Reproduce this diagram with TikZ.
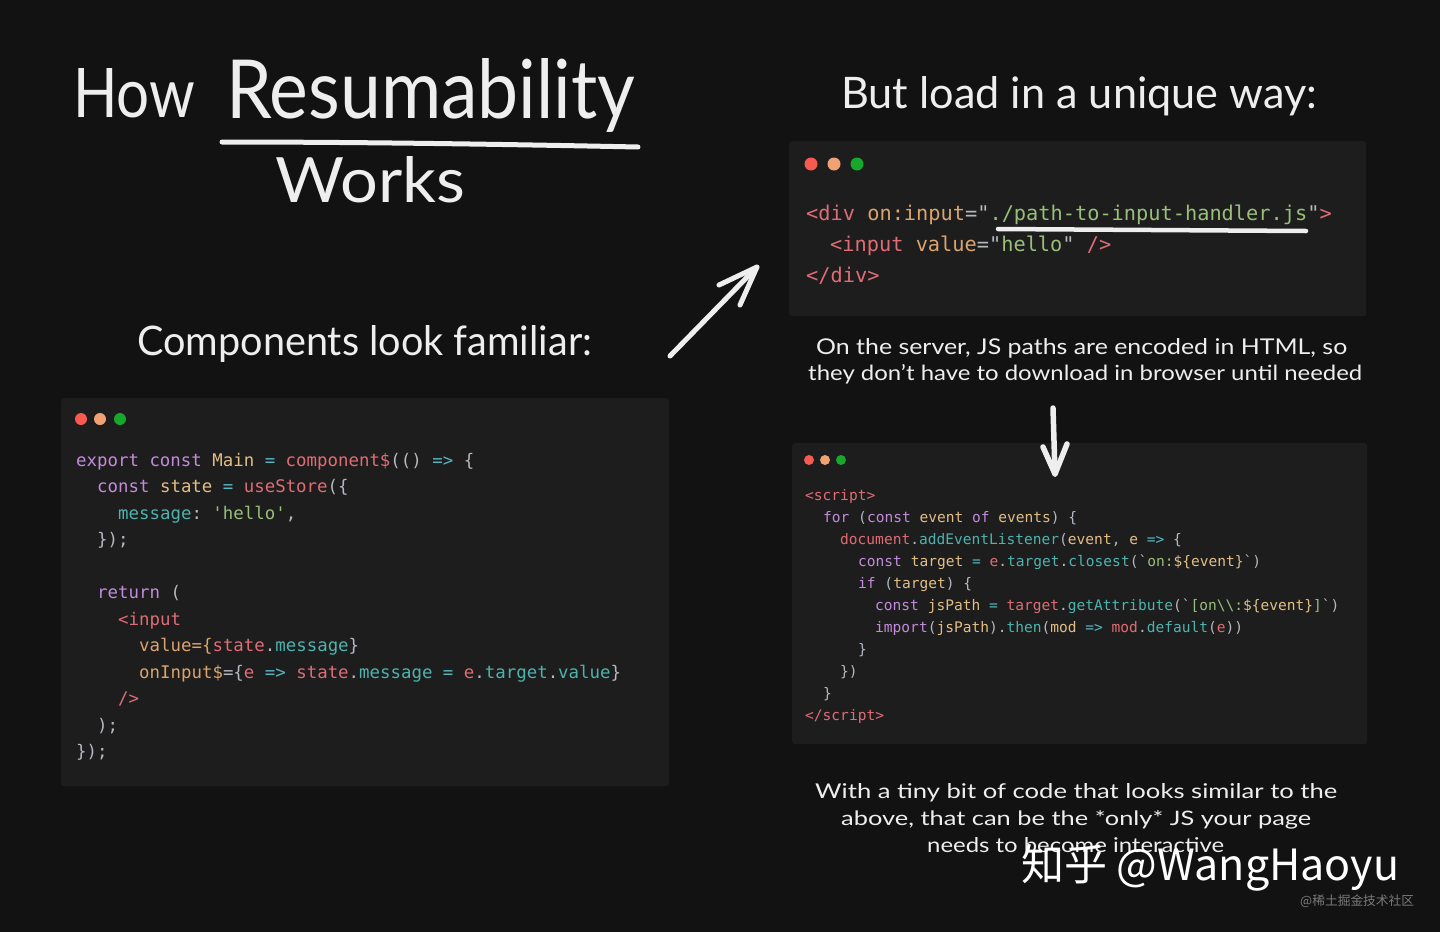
\documentclass[tikz,border=0pt]{standalone}
\usepackage{fontspec}
\usepackage{graphicx}
\setmainfont{Lato}
\setmonofont{DejaVu Sans Mono}
\newfontfamily\cjkfont{Noto Sans CJK SC}
\definecolor{bg}{HTML}{121212}
\definecolor{boxbg}{HTML}{1D1D1D}
\definecolor{hwhite}{HTML}{EEEEEE}
\definecolor{ckw}{HTML}{C38BDB}
\definecolor{cvar}{HTML}{E2BE86}
\definecolor{cfn}{HTML}{E06C75}
\definecolor{cprop}{HTML}{4DB3AE}
\definecolor{cstr}{HTML}{98BF7A}
\definecolor{cgray}{HTML}{B4B8BF}
\definecolor{cop}{HTML}{56B6C2}
\definecolor{cattr}{HTML}{D9A46E}
\definecolor{dred}{HTML}{F85A52}
\definecolor{dorange}{HTML}{F0A273}
\definecolor{dgreen}{HTML}{17A82B}
\definecolor{wmgray}{HTML}{7A7A7A}
\newcommand\zK[1]{\textcolor{ckw}{#1}}
\newcommand\zV[1]{\textcolor{cvar}{#1}}
\newcommand\zF[1]{\textcolor{cfn}{#1}}
\newcommand\zP[1]{\textcolor{cprop}{#1}}
\newcommand\zS[1]{\textcolor{cstr}{#1}}
\newcommand\zO[1]{\textcolor{cop}{#1}}
\newcommand\zA[1]{\textcolor{cattr}{#1}}
\newcommand\hw[3]{\resizebox{#1pt}{#2pt}{#3}}
\tikzset{
  hand/.style={text=hwhite, inner sep=0pt, anchor=base west},
  codeA/.style={font=\ttfamily\fontsize{17.4}{20}\selectfont, text=cgray, inner sep=0pt, anchor=base west},
  codeB/.style={font=\ttfamily\fontsize{20.3}{22}\selectfont, text=cgray, inner sep=0pt, anchor=base west},
  codeC/.style={font=\ttfamily\fontsize{14.55}{17}\selectfont, text=cgray, inner sep=0pt, anchor=base west},
  codebox/.style={fill=boxbg, rounded corners=3pt, inner sep=0pt, anchor=north west},
  wdot/.style={circle, inner sep=0pt},
  stroke/.style={draw=hwhite, line width=5pt, line cap=round, line join=round},
}
\begin{document}
\begin{tikzpicture}[x=1pt,y=-1pt]
\useasboundingbox (0,0) rectangle (1440,932);
\fill[bg] (0,0) rectangle (1440,932);

% ---------- titles ----------
\node[hand] (tHow) at (73,117) {\hw{122}{49}{How}};
\node[hand] (tRes) at (226,118) {\hw{409}{60}{Resumability}};
\coordinate (ulA) at (222,142);
\coordinate (ulB) at (638,147);
\draw[stroke] (ulA) .. controls (380,142) and (540,145) .. (ulB);
\node[hand] (tWorks) at (275,202) {\hw{190}{46}{Works}};
\node[hand] (tComp) at (137,355) {\hw{455}{30}{Components look familiar:}};
\node[hand] (tBut) at (841,108) {\hw{476}{32}{But load in a unique way:}};

% ---------- box 1 ----------
\node[codebox, minimum width=608pt, minimum height=388pt] (box1) at (61,398) {};
\node[wdot, fill=dred, minimum size=12pt] (b1d1) at (81,419) {};
\node[wdot, fill=dorange, minimum size=12pt] (b1d2) at (100,419) {};
\node[wdot, fill=dgreen, minimum size=12pt] (b1d3) at (120,419) {};
\node[codeA] (a1) at (76,466) {\zK{export const} \zV{Main} \zO{=} \zF{component\$}(() \zO{=>} \{};
\node[codeA] (a2) at (97,492.5) {\zK{const} \zV{state} \zO{=} \zF{useStore}(\{};
\node[codeA] (a3) at (118,519) {\zP{message}: \zS{'hello'},};
\node[codeA] (a4) at (97,545.5) {\});};
\node[codeA] (a5) at (97,598.5) {\zK{return} (};
\node[codeA] (a6) at (118,625) {\zF{<input}};
\node[codeA] (a7) at (139,651.5) {\zA{value=\{}\zF{state}.\zP{message}\}};
\node[codeA] (a8) at (139,678) {\zA{onInput\$}=\{\zF{e} \zO{=>} \zF{state}.\zP{message} \zO{=} \zF{e}.\zP{target}.\zP{value}\}};
\node[codeA] (a9) at (118,704.5) {\zF{/>}};
\node[codeA] (a10) at (97,731) {);};
\node[codeA] (a11) at (76,757.5) {\});};

% ---------- box 2 ----------
\node[codebox, minimum width=577pt, minimum height=175pt] (box2) at (789,141) {};
\node[wdot, fill=dred, minimum size=13pt] (b2d1) at (811,164) {};
\node[wdot, fill=dorange, minimum size=13pt] (b2d2) at (834,164) {};
\node[wdot, fill=dgreen, minimum size=13pt] (b2d3) at (857,164) {};
\node[codeB] (c1) at (806,220) {\zF{<div} \zA{on:input}="\zS{./path-to-input-handler.js}"\zF{>}};
\node[codeB] (c2) at (830,251) {\zF{<input} \zA{value}="\zS{hello}" \zF{/>}};
\node[codeB] (c3) at (806,282) {\zF{</div>}};
\coordinate (u2A) at (998,229);
\coordinate (u2B) at (1306,231);
\draw[stroke, line width=4.5pt] (u2A) -- (u2B);

% ---------- middle text ----------
\node[hand] (m1) at (816,354) {\hw{531}{16}{On the server, JS paths are encoded in HTML, so}};
\node[hand] (m2) at (808,380) {\hw{554}{16}{they don't have to download in browser until needed}};

% ---------- box 3 ----------
\node[codebox, minimum width=575pt, minimum height=301pt] (box3) at (792,443) {};
\node[wdot, fill=dred, minimum size=10pt] (b3d1) at (809,460) {};
\node[wdot, fill=dorange, minimum size=10pt] (b3d2) at (825,460) {};
\node[wdot, fill=dgreen, minimum size=10pt] (b3d3) at (841,460) {};
\node[codeC] (s1) at (805,500) {\zF{<script>}};
\node[codeC] (s2) at (823,522) {\zK{for} (\zK{const} \zV{event} \zK{of} \zV{events}) \{};
\node[codeC] (s3) at (840,544) {\zF{document}.\zP{addEventListener}(\zV{event}, \zV{e} \zO{=>} \{};
\node[codeC] (s4) at (858,566) {\zK{const} \zV{target} \zO{=} \zF{e}.\zP{target}.\zP{closest}(`\zS{on:}\zV{\$\{event\}}`)};
\node[codeC] (s5) at (858,588) {\zK{if} (\zV{target}) \{};
\node[codeC] (s6) at (875,610) {\zK{const} \zV{jsPath} \zO{=} \zF{target}.\zP{getAttribute}(`\zS{[on\textbackslash\textbackslash:}\zV{\$\{event\}}\zS{]}`)};
\node[codeC] (s7) at (875,632) {\zK{import}(\zV{jsPath}).\zP{then}(\zV{mod} \zO{=>} \zF{mod}.\zP{default}(\zF{e}))};
\node[codeC] (s8) at (858,654) {\}};
\node[codeC] (s9) at (840,676) {\})};
\node[codeC] (s10) at (823,698) {\}};
\node[codeC] (s11) at (805,720) {\zF{</script>}};

% ---------- arrows ----------
\coordinate (a1t) at (670,356);
\coordinate (a1h) at (757,267);
\coordinate (a1l) at (719,285);
\coordinate (a1r) at (740,305);
\draw[stroke] (a1t) -- (a1h);
\draw[stroke] (a1l) -- (a1h) -- (a1r);
\coordinate (a2t) at (1053,408);
\coordinate (a2h) at (1055,474);
\coordinate (a2l) at (1043,447);
\coordinate (a2r) at (1067,444);
\draw[stroke, line width=5.5pt] (a2t) -- (a2h);
\draw[stroke, line width=5.5pt] (a2l) -- (a2h) -- (a2r);

% ---------- bottom text ----------
\node[hand] (e1) at (815,798) {\hw{522}{15}{With a tiny bit of code that looks similar to the}};
\node[hand] (e2) at (841,825) {\hw{470}{15}{above, that can be the *only* JS your page}};
\node[hand] (e3) at (927,852) {\hw{297}{15}{needs to become interactive}};

% ---------- watermarks ----------
\node[inner sep=0pt, anchor=base west, text=white] (wm1) at (1021,880) {\resizebox{378pt}{!}{\cjkfont\fontsize{44}{50}\selectfont 知乎 @WangHaoyu}};
\node[inner sep=0pt, anchor=base west, text=wmgray] (wm2) at (1300,905) {\resizebox{114pt}{!}{\cjkfont\fontsize{12}{14}\selectfont @稀土掘金技术社区}};
\end{tikzpicture}
\end{document}
